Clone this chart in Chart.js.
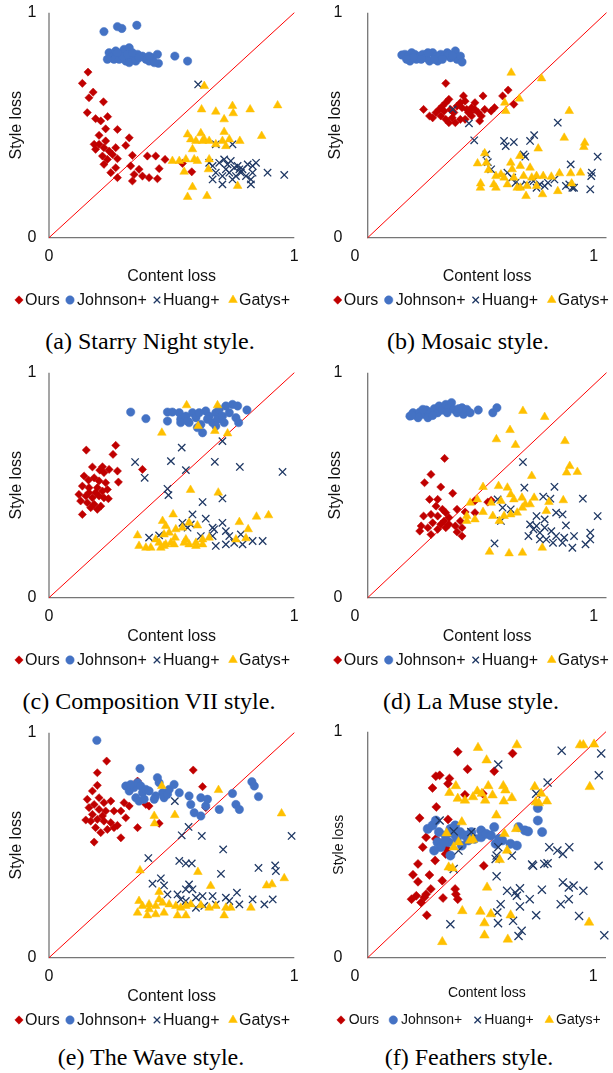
<!DOCTYPE html>
<html><head><meta charset="utf-8">
<script src="https://cdn.jsdelivr.net/npm/chart.js@4/dist/chart.umd.min.js"></script>
<style>
html,body{margin:0;padding:0;background:#fff;overflow:hidden;width:613px;height:1073px;position:relative;}
canvas{position:absolute;}
.cap{position:absolute;width:340px;text-align:center;font-family:"Liberation Serif","Times New Roman",serif;font-size:24px;line-height:28px;color:#000;white-space:nowrap;}
</style></head><body>
<script>
// ---------- labels ----------
const seriesNames = ['Ours', 'Johnson+', 'Huang+', 'Gatys+'];
const tickValues = [0, 1];
const tickLabels = ['0', '1'];
const xTitle = 'Content loss';
const yTitle = 'Style loss';
const captions = ['(a) Starry Night style.', '(b) Mosaic style.', '(c) Composition VII style.',
                  '(d) La Muse style.', '(e) The Wave style.', '(f) Feathers style.'];

// ---------- (a) Starry Night ----------
const starryOurs = [[.159,.736],[.136,.686],[.180,.647],[.163,.622],[.222,.604],[.156,.556],[.190,.529],[.211,.519],[.239,.538],[.231,.484],[.279,.481],[.204,.455],[.327,.444],[.313,.410],[.190,.393],[.224,.400],[.245,.385],[.272,.400],[.218,.363],[.238,.348],[.259,.370],[.279,.351],[.224,.326],[.272,.311],[.252,.289],[.279,.267],[.340,.366],[.401,.363],[.435,.363],[.473,.348],[.333,.319],[.367,.304],[.347,.281],[.381,.274],[.408,.267],[.442,.262],[.449,.307],[.340,.252],[.544,.330],[.582,.293],[.204,.415],[.184,.415],[.231,.430]];
const starryJohnson = [[.224,.916],[.279,.938],[.297,.930],[.358,.944],[.245,.822],[.259,.807],[.272,.830],[.293,.815],[.306,.837],[.327,.844],[.333,.807],[.347,.793],[.361,.815],[.381,.807],[.395,.793],[.408,.785],[.422,.800],[.442,.815],[.446,.775],[.252,.800],[.265,.793],[.286,.793],[.313,.785],[.327,.778],[.354,.785],[.299,.807],[.238,.793],[.279,.822],[.320,.815],[.340,.822],[.367,.800],[.408,.807],[.429,.778],[.513,.807],[.565,.785]];
const starryHuang = [[.608,.681],[.680,.415],[.748,.415],[.667,.319],[.694,.333],[.714,.348],[.728,.326],[.741,.341],[.755,.311],[.769,.319],[.789,.304],[.810,.326],[.830,.319],[.844,.333],[.680,.289],[.707,.274],[.735,.289],[.762,.274],[.782,.289],[.803,.274],[.823,.259],[.823,.237],[.667,.259],[.707,.237],[.748,.259],[.776,.304],[.721,.304],[.891,.289],[.959,.279],[.653,.333],[.830,.289]];
const starryGatys = [[.633,.674],[.622,.570],[.680,.560],[.748,.585],[.751,.553],[.714,.526],[.820,.570],[.932,.588],[.565,.459],[.578,.437],[.599,.430],[.619,.464],[.633,.437],[.653,.430],[.714,.470],[.707,.430],[.735,.437],[.778,.430],[.867,.452],[.585,.393],[.503,.341],[.531,.341],[.558,.348],[.592,.348],[.605,.341],[.653,.348],[.551,.293],[.650,.304],[.585,.225],[.565,.181],[.644,.185],[.769,.230],[.680,.415],[.721,.407],[.626,.430]];

// ---------- (b) Mosaic ----------
const mosaicOurs = [[.327,.686],[.234,.570],[.259,.541],[.272,.533],[.286,.556],[.299,.570],[.313,.585],[.327,.600],[.340,.615],[.347,.570],[.361,.556],[.374,.585],[.388,.600],[.401,.630],[.408,.607],[.415,.570],[.422,.556],[.435,.541],[.449,.570],[.463,.556],[.476,.541],[.483,.630],[.490,.570],[.449,.600],[.517,.563],[.531,.578],[.565,.630],[.588,.656],[.612,.593],[.327,.526],[.340,.511],[.354,.533],[.367,.511],[.388,.526],[.408,.526],[.429,.556],[.469,.519],[.306,.541],[.320,.563],[.395,.578],[.354,.563],[.435,.578]];
const mosaicJohnson = [[.143,.812],[.156,.815],[.170,.807],[.184,.822],[.197,.815],[.204,.793],[.218,.807],[.231,.815],[.245,.800],[.259,.785],[.272,.822],[.286,.807],[.293,.785],[.306,.815],[.320,.807],[.333,.822],[.347,.800],[.367,.830],[.374,.793],[.388,.807],[.395,.781],[.177,.785],[.190,.800],[.224,.793],[.252,.822],[.279,.793],[.340,.815],[.163,.793],[.354,.810],[.313,.793]];
const mosaicHuang = [[.356,.570],[.424,.508],[.446,.433],[.571,.430],[.578,.407],[.612,.425],[.680,.430],[.697,.456],[.796,.511],[.653,.370],[.660,.360],[.497,.370],[.503,.336],[.517,.304],[.585,.289],[.619,.244],[.639,.230],[.667,.237],[.694,.252],[.721,.237],[.741,.230],[.755,.244],[.782,.259],[.830,.230],[.844,.237],[.850,.326],[.857,.222],[.939,.289],[.936,.274],[.963,.360],[.932,.215],[.707,.222],[.605,.267],[.864,.222]];
const mosaicGatys = [[.601,.733],[.728,.708],[.635,.618],[.574,.600],[.578,.563],[.844,.563],[.823,.444],[.909,.422],[.905,.403],[.714,.396],[.490,.375],[.637,.363],[.460,.330],[.497,.333],[.506,.301],[.599,.333],[.558,.281],[.537,.274],[.571,.267],[.605,.304],[.612,.267],[.639,.319],[.653,.274],[.680,.311],[.687,.267],[.707,.274],[.735,.274],[.769,.271],[.803,.286],[.850,.286],[.891,.289],[.473,.241],[.472,.222],[.528,.237],[.537,.222],[.585,.237],[.626,.222],[.639,.222],[.667,.230],[.707,.230],[.732,.193],[.663,.185],[.796,.207],[.854,.241]];

// ---------- (c) Composition VII ----------
const compOurs = [[.152,.656],[.272,.677],[.261,.637],[.218,.582],[.177,.581],[.207,.567],[.224,.556],[.245,.570],[.279,.563],[.283,.514],[.143,.541],[.161,.523],[.184,.533],[.204,.519],[.231,.511],[.136,.496],[.163,.489],[.197,.489],[.218,.474],[.238,.481],[.122,.459],[.150,.452],[.177,.444],[.204,.452],[.224,.444],[.129,.430],[.156,.422],[.184,.415],[.211,.407],[.170,.400],[.197,.393],[.136,.370],[.242,.440],[.381,.570],[.190,.467],[.163,.467]];
const compJohnson = [[.333,.825],[.395,.796],[.483,.825],[.503,.825],[.483,.785],[.531,.822],[.537,.793],[.558,.807],[.571,.778],[.585,.822],[.599,.800],[.619,.770],[.626,.733],[.639,.830],[.653,.807],[.667,.778],[.680,.822],[.687,.793],[.694,.837],[.707,.807],[.721,.852],[.735,.822],[.748,.859],[.762,.800],[.769,.852],[.773,.778],[.807,.834],[.680,.763],[.646,.793],[.612,.822],[.565,.785],[.714,.778],[.605,.756],[.537,.778]];
const compHuang = [[.541,.667],[.351,.603],[.497,.607],[.676,.604],[.778,.581],[.952,.559],[.390,.533],[.558,.567],[.483,.484],[.487,.456],[.626,.425],[.707,.441],[.585,.370],[.639,.351],[.707,.333],[.544,.333],[.565,.311],[.667,.311],[.721,.296],[.735,.274],[.782,.281],[.408,.267],[.449,.277],[.619,.274],[.667,.274],[.680,.230],[.721,.237],[.755,.244],[.789,.237],[.830,.252],[.871,.252],[.707,.696],[.673,.304],[.578,.326]];
const compGatys = [[.561,.855],[.687,.855],[.460,.733],[.608,.763],[.676,.741],[.728,.730],[.577,.479],[.690,.467],[.506,.370],[.463,.341],[.476,.319],[.517,.304],[.544,.311],[.571,.333],[.605,.321],[.469,.281],[.490,.289],[.514,.267],[.435,.259],[.449,.244],[.476,.237],[.497,.244],[.361,.277],[.367,.230],[.395,.222],[.415,.222],[.456,.222],[.469,.230],[.510,.237],[.551,.244],[.571,.237],[.599,.244],[.626,.237],[.653,.267],[.626,.259],[.776,.336],[.812,.304],[.846,.360],[.895,.366],[.762,.259],[.803,.264],[.558,.259],[.599,.230]];

// ---------- (d) La Muse ----------
const museOurs = [[.322,.619],[.265,.548],[.238,.511],[.306,.492],[.356,.464],[.259,.437],[.293,.437],[.286,.407],[.313,.393],[.327,.378],[.340,.356],[.374,.393],[.408,.381],[.449,.378],[.234,.363],[.265,.370],[.293,.363],[.320,.341],[.272,.333],[.306,.326],[.340,.326],[.224,.319],[.252,.311],[.218,.296],[.265,.281],[.293,.304],[.327,.311],[.367,.319],[.388,.341],[.395,.311],[.374,.292],[.395,.274],[.503,.425],[.517,.433],[.449,.430]];
const museJohnson = [[.177,.807],[.190,.822],[.204,.810],[.218,.825],[.231,.815],[.245,.834],[.252,.800],[.265,.825],[.279,.840],[.293,.822],[.299,.852],[.313,.834],[.327,.859],[.340,.844],[.351,.867],[.361,.837],[.374,.822],[.395,.844],[.401,.815],[.415,.837],[.429,.822],[.463,.834],[.524,.822],[.541,.844],[.211,.800],[.272,.810],[.333,.822],[.381,.840],[.231,.837],[.184,.810]];
const museHuang = [[.650,.603],[.656,.489],[.782,.493],[.901,.440],[.735,.449],[.765,.440],[.544,.437],[.565,.400],[.789,.378],[.816,.370],[.963,.363],[.599,.393],[.558,.341],[.707,.363],[.741,.348],[.707,.319],[.694,.304],[.673,.274],[.721,.289],[.741,.311],[.769,.296],[.789,.274],[.830,.321],[.823,.267],[.864,.274],[.932,.289],[.748,.259],[.776,.244],[.816,.244],[.857,.222],[.912,.237],[.932,.259],[.531,.241],[.721,.259],[.680,.326]];
const museGatys = [[.650,.830],[.741,.803],[.596,.745],[.539,.704],[.619,.679],[.826,.696],[.846,.585],[.833,.556],[.878,.559],[.687,.541],[.483,.492],[.548,.496],[.585,.489],[.429,.422],[.459,.437],[.517,.422],[.558,.430],[.599,.459],[.612,.437],[.646,.444],[.660,.415],[.680,.415],[.697,.444],[.759,.425],[.819,.433],[.415,.363],[.449,.348],[.483,.381],[.524,.363],[.551,.341],[.571,.363],[.599,.370],[.626,.378],[.648,.400],[.748,.385],[.510,.204],[.592,.197],[.648,.200],[.731,.222],[.415,.341]];

// ---------- (e) The Wave ----------
const waveOurs = [[.235,.874],[.197,.822],[.197,.766],[.588,.834],[.626,.760],[.177,.741],[.204,.711],[.156,.704],[.184,.681],[.224,.689],[.252,.696],[.306,.689],[.327,.674],[.361,.785],[.163,.667],[.204,.659],[.231,.652],[.265,.652],[.293,.652],[.313,.622],[.150,.612],[.170,.607],[.197,.615],[.224,.607],[.252,.600],[.190,.578],[.211,.556],[.238,.570],[.265,.578],[.279,.588],[.184,.514],[.293,.533],[.361,.578],[.395,.681],[.408,.674],[.449,.597],[.639,.667],[.218,.630],[.177,.637]];
const waveJohnson = [[.195,.966],[.371,.841],[.313,.763],[.327,.741],[.347,.756],[.361,.778],[.374,.763],[.381,.733],[.395,.748],[.354,.711],[.367,.696],[.408,.741],[.435,.719],[.442,.800],[.449,.778],[.463,.733],[.469,.711],[.483,.726],[.490,.748],[.510,.770],[.531,.733],[.571,.719],[.578,.681],[.592,.644],[.619,.711],[.619,.630],[.639,.674],[.646,.704],[.694,.659],[.748,.730],[.762,.681],[.776,.659],[.827,.782],[.837,.763],[.854,.716],[.333,.770],[.429,.704],[.388,.704]];
const waveHuang = [[.513,.696],[.569,.581],[.541,.544],[.623,.541],[.710,.481],[.989,.541],[.405,.443],[.531,.430],[.558,.419],[.582,.419],[.701,.373],[.854,.399],[.922,.410],[.925,.385],[.422,.329],[.456,.353],[.469,.321],[.483,.281],[.524,.281],[.558,.304],[.571,.326],[.585,.304],[.537,.259],[.558,.252],[.599,.267],[.626,.274],[.667,.274],[.633,.230],[.680,.237],[.721,.267],[.735,.252],[.766,.289],[.776,.237],[.830,.259],[.878,.237],[.912,.259],[.599,.222]];
const waveGatys = [[.460,.763],[.691,.745],[.513,.634],[.429,.630],[.430,.597],[.948,.641],[.371,.388],[.607,.381],[.659,.319],[.449,.292],[.367,.252],[.381,.230],[.408,.237],[.435,.230],[.463,.244],[.490,.237],[.517,.230],[.537,.222],[.558,.230],[.578,.237],[.619,.233],[.653,.222],[.680,.230],[.721,.222],[.741,.222],[.823,.222],[.361,.200],[.401,.188],[.435,.193],[.469,.200],[.524,.188],[.558,.188],[.714,.188],[.887,.321],[.909,.326],[.959,.353],[.449,.259],[.408,.215]];

// ---------- (f) Feathers ----------
const feathersOurs = [[.378,.911],[.608,.904],[.419,.834],[.531,.825],[.286,.803],[.302,.807],[.343,.793],[.272,.751],[.337,.770],[.408,.721],[.483,.726],[.288,.667],[.218,.618],[.337,.612],[.245,.533],[.231,.489],[.286,.526],[.333,.481],[.283,.430],[.211,.415],[.190,.367],[.211,.336],[.259,.366],[.313,.341],[.487,.407],[.184,.259],[.204,.274],[.224,.244],[.245,.281],[.265,.304],[.238,.267],[.316,.264],[.367,.304],[.370,.281],[.378,.259],[.248,.188],[.327,.459],[.347,.556]];
const feathersJohnson = [[.252,.570],[.272,.585],[.286,.607],[.299,.556],[.293,.511],[.306,.489],[.327,.541],[.340,.511],[.347,.570],[.347,.452],[.361,.548],[.374,.526],[.388,.556],[.395,.496],[.408,.541],[.422,.519],[.435,.556],[.449,.526],[.476,.563],[.476,.533],[.497,.548],[.517,.541],[.531,.578],[.537,.504],[.551,.526],[.565,.519],[.599,.504],[.626,.496],[.633,.578],[.660,.563],[.673,.559],[.714,.662],[.714,.607],[.732,.556],[.320,.511],[.367,.585],[.279,.474]];
const feathersHuang = [[.814,.916],[.980,.904],[.970,.807],[.548,.855],[.755,.775],[.707,.726],[.302,.607],[.361,.559],[.435,.556],[.381,.474],[.548,.489],[.605,.452],[.762,.489],[.796,.474],[.819,.459],[.846,.489],[.541,.452],[.537,.437],[.690,.412],[.694,.407],[.741,.415],[.755,.418],[.969,.407],[.541,.360],[.361,.393],[.819,.333],[.844,.311],[.864,.319],[.905,.296],[.585,.296],[.619,.289],[.639,.307],[.680,.259],[.731,.301],[.626,.274],[.558,.237],[.544,.200],[.639,.227],[.707,.188],[.810,.237],[.844,.259],[.887,.185],[.610,.163],[.547,.153],[.646,.119],[.633,.096],[.347,.148],[.993,.099]];
const feathersGatys = [[.463,.929],[.626,.941],[.499,.874],[.891,.941],[.905,.941],[.950,.944],[.370,.760],[.343,.730],[.378,.704],[.408,.696],[.442,.711],[.460,.736],[.479,.726],[.493,.696],[.506,.760],[.524,.719],[.569,.760],[.578,.741],[.571,.692],[.605,.707],[.701,.756],[.728,.726],[.705,.689],[.718,.684],[.752,.692],[.932,.756],[.540,.630],[.395,.600],[.331,.551],[.361,.489],[.381,.511],[.429,.519],[.442,.523],[.574,.548],[.623,.570],[.585,.474],[.554,.433],[.340,.400],[.356,.396],[.501,.311],[.397,.207],[.473,.204],[.517,.193],[.600,.188],[.490,.153],[.490,.099],[.588,.081],[.313,.070],[.929,.156]];

// ---------- styling (not data) ----------
const styles = [
  {pointStyle:'rectRot',  color:'#C00000', radius:4.1, fill:true,  order:4},
  {pointStyle:'circle',   color:'#4472C4', radius:4.2, fill:true,  order:3},
  {pointStyle:'crossRot', color:'#1F3864', radius:5.2, fill:false, order:2},
  {pointStyle:'triangle', color:'#FFC000', radius:5.0, fill:true,  order:1}
];

const leftLegend = {marks:[19,70,157,233], texts:[25,77,163,239]};
const panels = [
  {series:[starryOurs, starryJohnson, starryHuang, starryGatys], left:0, top:0, right:false},
  {series:[mosaicOurs, mosaicJohnson, mosaicHuang, mosaicGatys], left:306, top:0, right:true},
  {series:[compOurs, compJohnson, compHuang, compGatys], left:0, top:360, right:false},
  {series:[museOurs, museJohnson, museHuang, museGatys], left:306, top:360, right:true},
  {series:[waveOurs, waveJohnson, waveHuang, waveGatys], left:0, top:720, right:false},
  {series:[feathersOurs, feathersJohnson, feathersHuang, feathersGatys], left:306, top:720, right:true, small:true}
];
const capPos = [[150,341],[468,341],[149,701],[471,701],[151,1057],[469,1057]];

function drawMark(ctx, st, x, y, r) {
  ctx.save();
  ctx.fillStyle = st.color; ctx.strokeStyle = st.color;
  ctx.lineWidth = st.fill ? 0.5 : 1.3;
  const opts = {pointStyle: st.pointStyle, radius: r, rotation: 0, borderWidth: ctx.lineWidth};
  Chart.helpers.drawPoint(ctx, opts, x, y);
  ctx.restore();
}

const decor = {
  id: 'decor',
  beforeDatasetsDraw(chart, args, o) {
    const ctx = chart.ctx, a = chart.chartArea;
    ctx.save();
    ctx.strokeStyle = '#767676'; ctx.lineWidth = 1.3;
    ctx.beginPath();
    ctx.moveTo(a.left, a.top); ctx.lineTo(a.left, a.bottom); ctx.lineTo(a.right, a.bottom);
    ctx.stroke();
    ctx.restore();
  },
  afterDraw(chart, args, o) {
    const ctx = chart.ctx, a = chart.chartArea, xs = chart.scales.x, ys = chart.scales.y;
    const fam = '"Liberation Sans", Arial, sans-serif';
    ctx.save();
    ctx.fillStyle = '#111';
    ctx.textAlign = 'center'; ctx.textBaseline = 'middle';
    ctx.font = '16px ' + fam;
    tickValues.forEach((v, i) => ctx.fillText(tickLabels[i], 32, ys.getPixelForValue(v)));
    tickValues.forEach((v, i) => ctx.fillText(tickLabels[i], xs.getPixelForValue(v) - o.shift, 256.7));
    ctx.font = o.font + 'px ' + fam;
    ctx.fillText(xTitle, (a.left + a.right) / 2, o.xTitleY);
    ctx.save();
    ctx.translate(o.yTitleX, (a.top + a.bottom) / 2);
    ctx.rotate(-Math.PI / 2);
    ctx.fillText(yTitle, 0, 0);
    ctx.restore();
    // legend
    ctx.textAlign = 'left';
    seriesNames.forEach((name, i) => {
      drawMark(ctx, styles[i], o.legend.marks[i], o.legendY, i === 2 ? 4.6 : (i === 3 ? 5 : 4.2));
      ctx.fillStyle = '#111';
      ctx.fillText(name, o.legend.texts[i], o.legendY + 0.5);
    });
    ctx.restore();
  }
};

panels.forEach((p, k) => {
  const cv = document.createElement('canvas');
  const W = p.right ? 307 : 306, H = 320;
  cv.width = W; cv.height = H;
  cv.style.left = p.left + 'px'; cv.style.top = p.top + 'px';
  cv.style.width = W + 'px'; cv.style.height = H + 'px';
  document.body.appendChild(cv);
  const shift = p.right ? 12.7 : 0;
  const topPad = p.small ? 11.7 : 12.7;
  let legend = {marks: leftLegend.marks.map(v => v + shift), texts: leftLegend.texts.map(v => v + shift)};
  if (p.small) legend = {marks:[35,87.3,171.7,243.3], texts:[42.7,95,178.3,250]};
  const rScale = p.small ? 1.1 : 1;
  const datasets = [{
    label: 'diag', data: [{x:0, y:0}, {x:1, y:1}], showLine: true,
    borderColor: '#FF0000', borderWidth: 1, pointRadius: 0, order: 10, clip: false
  }];
  p.series.forEach((arr, i) => {
    const st = styles[i];
    datasets.push({
      label: seriesNames[i],
      data: arr.map(d => ({x: d[0], y: d[1]})),
      pointStyle: st.pointStyle,
      pointRadius: st.radius * rScale,
      backgroundColor: st.color,
      borderColor: st.color,
      borderWidth: st.fill ? 0.5 : 1.3,
      showLine: false, order: st.order, clip: false
    });
  });
  new Chart(cv, {
    type: 'scatter',
    data: {datasets},
    options: {
      responsive: false, animation: false, devicePixelRatio: 1, events: [],
      layout: {padding: {left: 49 + shift, right: p.right ? 0 : 11.7, top: topPad, bottom: H - 237.7}},
      scales: {
        x: {type: 'linear', min: 0, max: 1, display: false},
        y: {type: 'linear', min: 0, max: 1, display: false}
      },
      plugins: {
        legend: {display: false}, tooltip: {enabled: false},
        decor: {
          shift: shift, font: p.small ? 14 : 16,
          xTitleY: p.small ? 273.3 : 276.7,
          yTitleX: p.small ? 33.3 : 16.7 + shift,
          legendY: 300, legend: legend
        }
      }
    },
    plugins: [decor]
  });
  const cap = document.createElement('div');
  cap.className = 'cap';
  cap.textContent = captions[k];
  cap.style.left = (capPos[k][0] - 170) + 'px';
  cap.style.top = (capPos[k][1] - 14) + 'px';
  document.body.appendChild(cap);
});
</script></body></html>
